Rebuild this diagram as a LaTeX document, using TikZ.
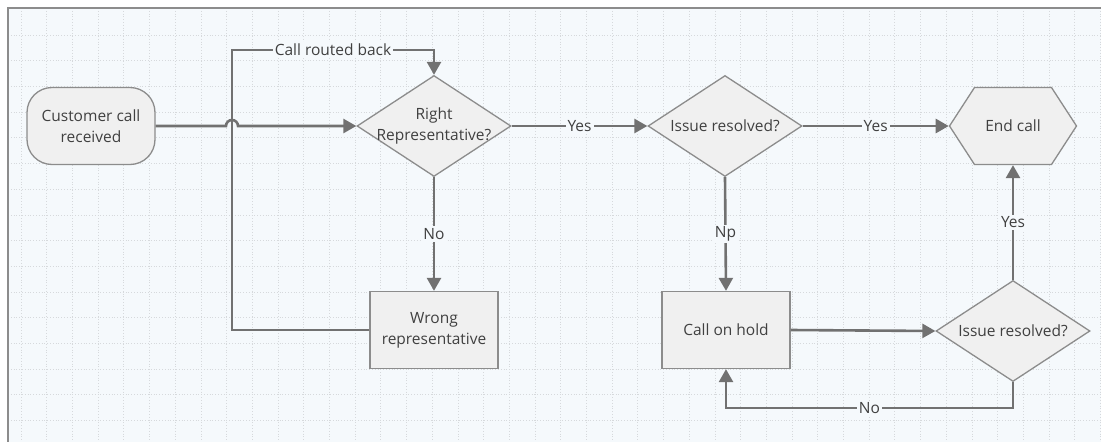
\documentclass[tikz,border=0pt]{standalone}
\usepackage{fontspec}
\setmainfont{Open Sans}
\usetikzlibrary{arrows.meta,shapes.geometric,shapes.misc,shapes.symbols}
\definecolor{bgblue}{HTML}{F5F9FC}
\definecolor{gridgrey}{HTML}{D6D9DC}
\definecolor{flowgrey}{HTML}{717171}
\definecolor{boxline}{HTML}{8C8C8C}
\definecolor{boxfill}{HTML}{F0F0F0}
\definecolor{txtgrey}{HTML}{404040}
\tikzset{
  box/.style={rectangle, draw=boxline, fill=boxfill, line width=1.3pt,
    minimum width=128pt, minimum height=77pt, align=center, text=txtgrey},
  startbox/.style={box, rounded corners=25pt},
  dmd/.style={diamond, draw=boxline, fill=boxfill, line width=1.3pt,
    minimum width=154pt, minimum height=101pt, inner sep=0pt},
  dtxt/.style={align=center, text=txtgrey, inner sep=0pt},
  hexa/.style={signal, signal to=west and east, signal pointer angle=114,
    draw=boxline, fill=boxfill, line width=1.3pt,
    minimum width=127pt, minimum height=77pt, text=txtgrey},
  flow/.style={draw=flowgrey, line width=2.6pt,
    -{Triangle[length=13pt,width=14pt]}},
  lbl/.style={fill=bgblue, text=txtgrey, inner sep=2pt}
}
\begin{document}
\begin{tikzpicture}[x=1pt, y=-1pt, font=\fontsize{15.5}{21}\selectfont]
\useasboundingbox (0,0) rectangle (1101,442);
% background and grid
\fill[white] (0,0) rectangle (1101,442);
\fill[bgblue] (8,8) rectangle (1101,442);
\foreach \i in {0,...,42}
  \draw[gridgrey, dotted, line width=0.8pt] ({21+25.7*\i},8) -- ({21+25.7*\i},442);
\foreach \j in {1,...,17}
  \draw[gridgrey, dotted, line width=0.8pt] (8,{9.3+25.7*\j}) -- (1101,{9.3+25.7*\j});
\draw[boxline, line width=1.5pt] (8,442) -- (8,8) -- (1101,8);

% nodes
\node[startbox] (cust) at (91,126) {Customer call\\received};
\node[dmd, label={[dtxt]center:Right\\Representative?}] (rr) at (434,126) {};
\node[box] (wrong) at (434,330) {Wrong\\representative};
\node[dmd, label={[dtxt]center:Issue resolved?}] (res1) at (725,126) {};
\node[hexa] (end) at (1013,126) {End call};
\node[box] (hold) at (726,330) {Call on hold};
\node[dmd, label={[dtxt]center:Issue resolved?}] (res2) at (1013,331) {};

% connectors
\draw[flow] (cust.east) -- (226,126) arc[start angle=180, end angle=0, radius=6pt]
  -- (rr.west);
\draw[flow] (rr.east) -- node[lbl] {Yes} (res1.west);
\draw[flow] (res1.east) -- node[lbl] {Yes} (end.west);
\draw[flow] (rr.south) -- node[lbl] {No} (wrong.north);
\draw[flow] (res1.south) -- node[lbl] {Np} (hold.north);
\draw[flow] (hold.east) -- (res2.west);
\draw[flow] (res2.north) -- node[lbl] {Yes} (end.south);
\draw[flow] (res2.south) -- ++(0,26) -| node[pos=0.25, lbl] {No} (hold.south);
\draw[flow] (wrong.west) -| (232,50) -| node[pos=0.25, lbl] {Call routed back} (rr.north);
\end{tikzpicture}
\end{document}
